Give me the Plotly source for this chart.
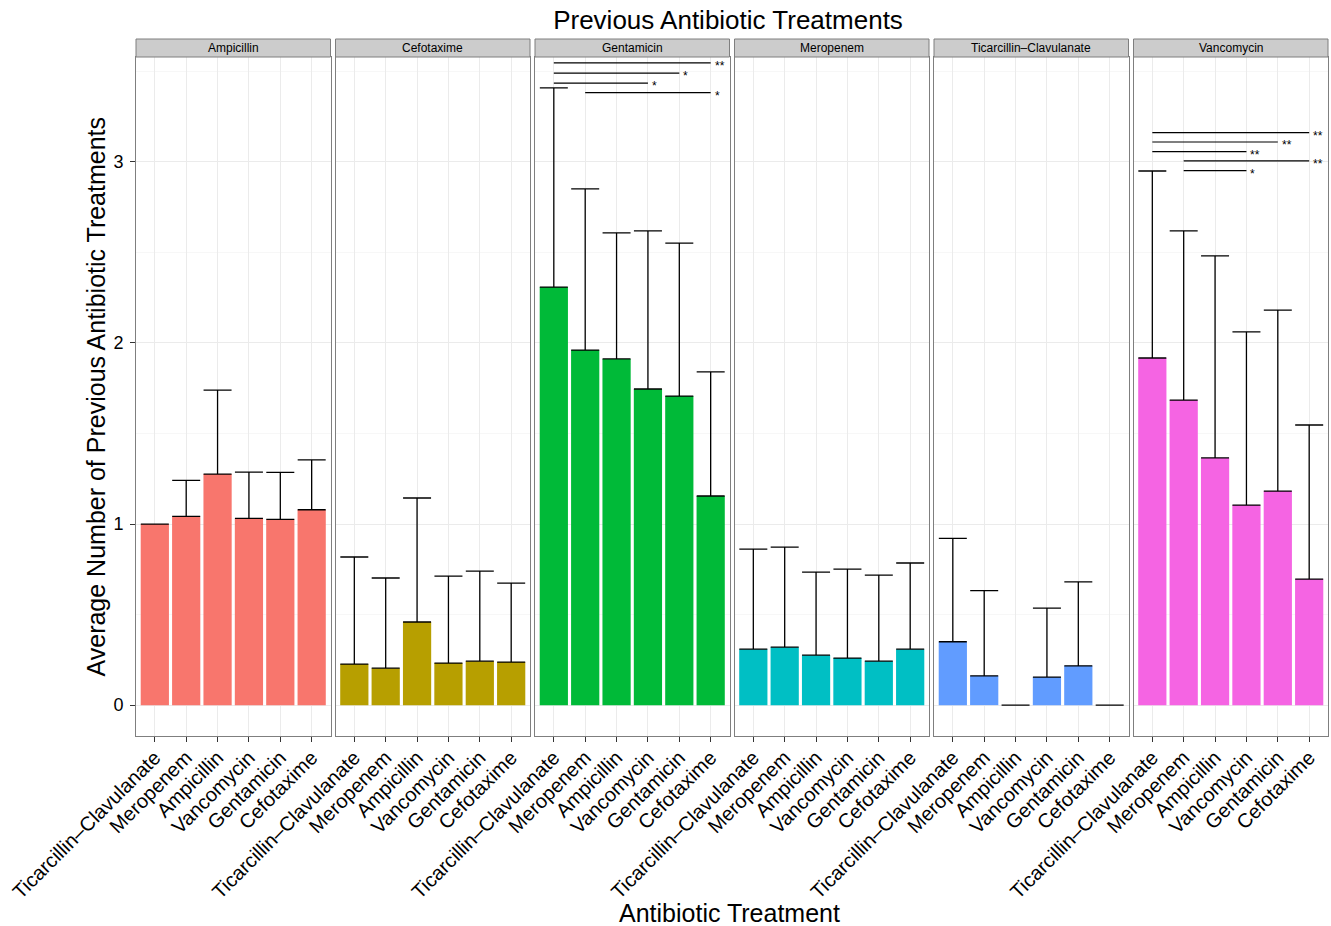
import plotly.graph_objects as go

# ---------------- data ----------------
categories = ["Ticarcillin–Clavulanate", "Meropenem", "Ampicillin",
              "Vancomycin", "Gentamicin", "Cefotaxime"]
panels = ["Ampicillin", "Cefotaxime", "Gentamicin", "Meropenem",
          "Ticarcillin–Clavulanate", "Vancomycin"]
panel_colors = ["#F8766D", "#B79F00", "#00BA38", "#00BFC4", "#619CFF", "#F564E3"]

ampicillin_mean = [1.000, 1.043, 1.276, 1.031, 1.026, 1.079]
ampicillin_sd = [0.000, 0.198, 0.464, 0.256, 0.260, 0.275]
cefotaxime_mean = [0.227, 0.204, 0.459, 0.232, 0.243, 0.238]
cefotaxime_sd = [0.591, 0.498, 0.685, 0.481, 0.497, 0.436]
gentamicin_mean = [2.309, 1.961, 1.912, 1.746, 1.707, 1.155]
gentamicin_sd = [1.100, 0.890, 0.696, 0.873, 0.845, 0.685]
meropenem_mean = [0.309, 0.320, 0.276, 0.260, 0.243, 0.309]
meropenem_sd = [0.553, 0.553, 0.459, 0.491, 0.475, 0.476]
ticarcillin_mean = [0.350, 0.162, 0.000, 0.155, 0.217, 0.000]
ticarcillin_sd = [0.571, 0.470, 0.000, 0.381, 0.464, 0.000]
vancomycin_mean = [1.917, 1.685, 1.365, 1.105, 1.182, 0.696]
vancomycin_sd = [1.033, 0.934, 1.116, 0.956, 1.000, 0.851]

means = [ampicillin_mean, cefotaxime_mean, gentamicin_mean,
         meropenem_mean, ticarcillin_mean, vancomycin_mean]
sds = [ampicillin_sd, cefotaxime_sd, gentamicin_sd,
       meropenem_sd, ticarcillin_sd, vancomycin_sd]

# significance brackets
sig_panel = ["Gentamicin"] * 4 + ["Vancomycin"] * 5
sig_from = ["Ticarcillin–Clavulanate", "Ticarcillin–Clavulanate", "Ticarcillin–Clavulanate", "Meropenem",
            "Ticarcillin–Clavulanate", "Ticarcillin–Clavulanate", "Ticarcillin–Clavulanate", "Meropenem", "Meropenem"]
sig_to = ["Cefotaxime", "Gentamicin", "Vancomycin", "Cefotaxime",
          "Cefotaxime", "Gentamicin", "Vancomycin", "Cefotaxime", "Vancomycin"]
sig_y = [3.547, 3.490, 3.435, 3.383, 3.162, 3.110, 3.057, 3.006, 2.952]
sig_label = ["**", "*", "*", "*", "**", "**", "**", "**", "*"]

# ---------------- layout geometry ----------------
W, H = 1331, 926
ML, MR, MT, MB = 136, 3, 57, 190
plot_w = W - ML - MR
plot_h = H - MT - MB
panel_w = 194.5
gap = (plot_w - 6 * panel_w) / 5
y_range = [-0.1705, 3.5795]
FONT = "Liberation Sans, Arial, Helvetica, sans-serif"

fig = go.Figure()
layout_axes = {}
shapes = []
annotations = []

for i, (pname, m, s, col) in enumerate(zip(panels, means, sds, panel_colors)):
    n = "" if i == 0 else str(i + 1)
    x0 = i * (panel_w + gap) / plot_w
    x1 = (i * (panel_w + gap) + panel_w) / plot_w
    fig.add_trace(go.Bar(
        x=categories, y=m, width=0.9, marker=dict(color=col, line=dict(width=0)),
        error_y=dict(type="data", array=s, arrayminus=[0] * len(s), symmetric=False,
                     color="black", thickness=1.3, width=14),
        xaxis="x" + n, yaxis="y" + n, showlegend=False,
        hovertemplate=pname + "<br>%{x}: %{y:.2f}<extra></extra>",
    ))
    layout_axes["xaxis" + n] = dict(
        domain=[x0, x1], anchor="y" + n, type="category",
        categoryorder="array", categoryarray=categories,
        range=[-0.6, 5.6], showgrid=True, gridcolor="#EBEBEB", gridwidth=1,
        showline=True, mirror=True, linecolor="#7F7F7F", linewidth=1,
        ticks="outside", ticklen=5, tickcolor="#333333", tickwidth=1,
        tickangle=-45, tickfont=dict(family=FONT, size=20, color="black"),
        ticklabelstandoff=-4,
        zeroline=False, fixedrange=True,
    )
    layout_axes["yaxis" + n] = dict(
        domain=[0, 1], anchor="x" + n, range=y_range,
        tick0=0, dtick=1, showgrid=True, gridcolor="#EBEBEB", gridwidth=1,
        minor=dict(dtick=0.5, tick0=0, showgrid=True, gridcolor="#F7F7F7", gridwidth=1),
        showline=True, mirror=True, linecolor="#7F7F7F", linewidth=1,
        ticks="outside" if i == 0 else "", ticklen=5, tickcolor="#333333",
        showticklabels=(i == 0), tickfont=dict(family=FONT, size=18, color="black"),
        ticklabelstandoff=3,
        zeroline=False, fixedrange=True,
    )
    # strip
    strip_top = 1 + 18 / plot_h
    shapes.append(dict(type="rect", xref="paper", yref="paper", x0=x0, x1=x1,
                       y0=1, y1=strip_top, fillcolor="#CCCCCC",
                       line=dict(color="#7F7F7F", width=1), layer="above"))
    annotations.append(dict(text=pname, xref="paper", yref="paper",
                            x=(x0 + x1) / 2, y=(1 + strip_top) / 2,
                            xanchor="center", yanchor="middle", showarrow=False,
                            font=dict(family=FONT, size=12, color="black")))

# significance lines
for p, a, b, yv, lab in zip(sig_panel, sig_from, sig_to, sig_y, sig_label):
    k = panels.index(p)
    n = "" if k == 0 else str(k + 1)
    ia, ib = categories.index(a), categories.index(b)
    shapes.append(dict(type="line", xref="x" + n, yref="y" + n, x0=ia, x1=ib,
                       y0=yv, y1=yv, line=dict(color="black", width=1.2)))
    annotations.append(dict(text=lab, xref="x" + n, yref="y" + n, x=ib, y=yv,
                            xanchor="left", yanchor="middle", showarrow=False,
                            xshift=2, yshift=-3,
                            font=dict(family=FONT, size=12, color="black")))

# axis titles
annotations.append(dict(text="Average Number of Previous Antibiotic Treatments",
                        xref="paper", yref="paper", x=(95 - ML) / plot_w,
                        y=(736 - 396.5) / plot_h, textangle=-90,
                        xanchor="center", yanchor="middle", showarrow=False,
                        font=dict(family=FONT, size=25, color="black")))
annotations.append(dict(text="Antibiotic Treatment", xref="paper", yref="paper",
                        x=(729 - ML) / plot_w, y=(736 - 913) / plot_h,
                        xanchor="center", yanchor="middle", showarrow=False,
                        font=dict(family=FONT, size=25, color="black")))

fig.update_layout(
    width=W, height=H,
    margin=dict(l=ML, r=MR, t=MT, b=MB),
    paper_bgcolor="white", plot_bgcolor="white",
    title=dict(text="Previous Antibiotic Treatments", x=728 / W, xanchor="center",
               y=1 - 20 / H, yanchor="middle", yref="container",
               font=dict(family=FONT, size=26, color="black")),
    shapes=shapes, annotations=annotations, showlegend=False,
    **layout_axes,
)

# remove the page's default 8px body margin so the figure sits at the window corner
fig.write_html("out.html",
               config={"displayModeBar": False},
               post_script="document.body.style.margin='0';document.body.style.overflow='hidden';")
